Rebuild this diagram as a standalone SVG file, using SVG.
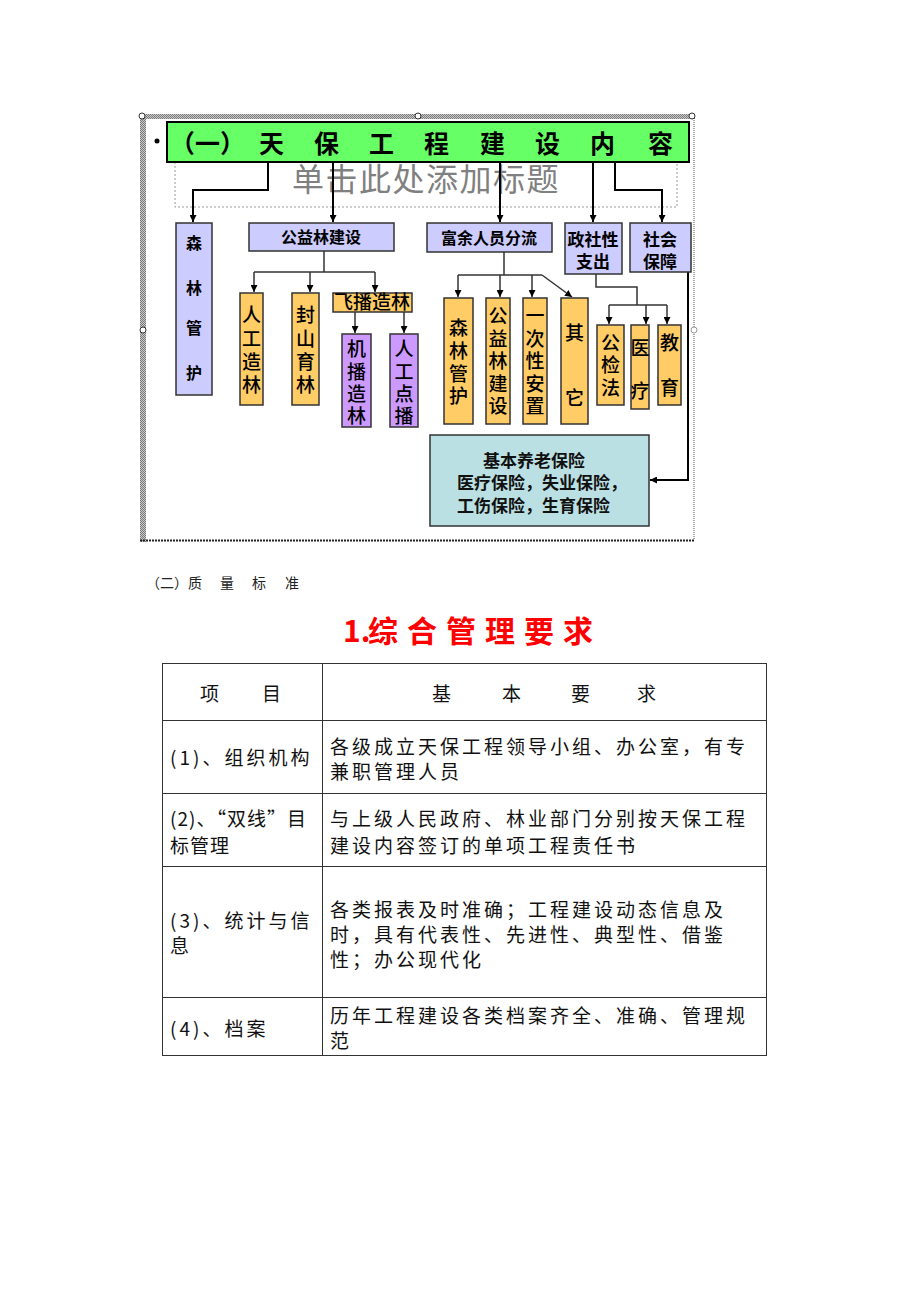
<svg xmlns="http://www.w3.org/2000/svg" width="920" height="1302" viewBox="0 0 920 1302">
<defs>
<pattern id="hatch" width="2" height="2" patternUnits="userSpaceOnUse">
<rect width="2" height="2" fill="#c8c8c8"/>
<rect width="1" height="1" fill="#7a7a7a"/>
<rect x="1" y="1" width="1" height="1" fill="#7a7a7a"/>
</pattern>
<marker id="ah" viewBox="0 0 10 10" refX="10" refY="5" markerWidth="7" markerHeight="7" markerUnits="userSpaceOnUse" orient="auto">
<path d="M0,0 L10,5 L0,10 z" fill="#000"/>
</marker>
</defs>
<style>
.cjk{font-family:"Noto Sans CJK SC","Liberation Sans",sans-serif}
.b{font-weight:bold}
.lav{fill:#CCCCFF;stroke:#333;stroke-width:1.5}
.org{fill:#FFCC66;stroke:#333;stroke-width:1.5}
.pur{fill:#CC99FF;stroke:#333;stroke-width:1.5}
.main{fill:none;stroke:#000;stroke-width:2}
.sub{fill:none;stroke:#333;stroke-width:1.5}
.lbl{font-size:16px;font-weight:bold;text-anchor:middle}
.vt{font-size:19px;font-weight:500;text-anchor:middle}
.tb{font-size:19px;fill:#111}
</style>
<rect width="920" height="1302" fill="#fff"/>

<!-- slide frame -->
<g id="frame">
<rect x="140" y="114" width="555" height="5" fill="url(#hatch)"/>
<rect x="140" y="114" width="6" height="428" fill="url(#hatch)"/>
<line x1="694" y1="118" x2="694" y2="540" stroke="#555" stroke-width="1" stroke-dasharray="1,1"/>
<line x1="140" y1="540.5" x2="695" y2="540.5" stroke="#222" stroke-width="2" stroke-dasharray="2,1"/>
<rect x="175" y="150" width="502" height="57" fill="none" stroke="#999" stroke-width="1" stroke-dasharray="2,2"/>
<text x="292" y="191" class="cjk" font-size="32" fill="#808080" letter-spacing="1.5">单击此处添加标题</text>
<circle cx="142" cy="116" r="3" fill="#fff" stroke="#333"/>
<circle cx="418" cy="116" r="3" fill="#fff" stroke="#333"/>
<circle cx="692" cy="116" r="3" fill="#fff" stroke="#333"/>
<circle cx="143" cy="330" r="3" fill="#fff" stroke="#333"/>
<circle cx="694" cy="330" r="3" fill="#fff" stroke="#999"/>
<circle cx="157" cy="141" r="2.5" fill="#000"/>
</g>

<g id="connectors">
<path class="main" d="M268,162 V190 H193 V222" marker-end="url(#ah)"/>
<path class="main" d="M333,162 V222" marker-end="url(#ah)"/>
<path class="main" d="M500,162 V222" marker-end="url(#ah)"/>
<path class="main" d="M593,162 V222" marker-end="url(#ah)"/>
<path class="main" d="M615,162 V190 H662 V222" marker-end="url(#ah)"/>
<path class="main" d="M688,272 V480 H650" marker-end="url(#ah)"/>
<path class="sub" d="M324,251 V272"/>
<path class="sub" d="M254,272 H375"/>
<path class="sub" d="M254,272 V292" marker-end="url(#ah)"/>
<path class="sub" d="M310,272 V292" marker-end="url(#ah)"/>
<path class="sub" d="M375,272 V292" marker-end="url(#ah)"/>
<path class="sub" d="M355,312 V333" marker-end="url(#ah)"/>
<path class="sub" d="M404,312 V333" marker-end="url(#ah)"/>
<path class="sub" d="M504,252 V275"/>
<path class="sub" d="M458,275 H542"/>
<path class="sub" d="M458,275 V297" marker-end="url(#ah)"/>
<path class="sub" d="M500,275 V297" marker-end="url(#ah)"/>
<path class="sub" d="M532,275 V297" marker-end="url(#ah)"/>
<path class="sub" d="M542,275 L572,297" marker-end="url(#ah)"/>
<path class="sub" d="M596,274 V287 H637 V305"/>
<path class="sub" d="M609,305 H667"/>
<path class="sub" d="M609,305 V324" marker-end="url(#ah)"/>
<path class="sub" d="M646,305 V324" marker-end="url(#ah)"/>
<path class="sub" d="M667,305 V324" marker-end="url(#ah)"/>
</g>

<g id="title">
<rect x="167" y="122" width="522" height="40" fill="#66FF66" stroke="#000" stroke-width="2"/>
<text class="cjk b" font-size="25" y="153"><tspan x="170">（一）</tspan><tspan x="259">天</tspan><tspan x="314">保</tspan><tspan x="369">工</tspan><tspan x="424">程</tspan><tspan x="480">建</tspan><tspan x="535">设</tspan><tspan x="590">内</tspan><tspan x="648">容</tspan></text>
</g>

<g id="n-senlin">
<rect class="lav" x="176" y="223" width="36" height="172"/>
<text class="cjk lbl" x="194"><tspan x="194" y="249">森</tspan><tspan x="194" y="294">林</tspan><tspan x="194" y="334">管</tspan><tspan x="194" y="379">护</tspan></text>
</g>
<g id="n-gongyi">
<rect class="lav" x="249" y="223" width="145" height="28"/>
<text class="cjk lbl" x="321" y="243">公益林建设</text>
</g>
<g id="n-fuyu">
<rect class="lav" x="427" y="223" width="125" height="29"/>
<text class="cjk lbl" x="489" y="244">富余人员分流</text>
</g>
<g id="n-zhengshe">
<rect class="lav" x="565" y="223" width="57" height="51"/>
<text class="cjk b" font-size="17" text-anchor="middle"><tspan x="593" y="246">政社性</tspan><tspan x="593" y="268">支出</tspan></text>
</g>
<g id="n-shehui">
<rect class="lav" x="630" y="223" width="61" height="49"/>
<text class="cjk b" font-size="17" text-anchor="middle"><tspan x="660" y="246">社会</tspan><tspan x="660" y="268">保障</tspan></text>
</g>

<g id="n-rengong">
<rect class="org" x="240" y="293" width="23" height="112"/>
<text class="cjk vt"><tspan x="251.5" y="322">人</tspan><tspan x="251.5" y="346">工</tspan><tspan x="251.5" y="369">造</tspan><tspan x="251.5" y="392">林</tspan></text>
</g>
<g id="n-fengshan">
<rect class="org" x="292" y="293" width="27" height="112"/>
<text class="cjk vt"><tspan x="305.5" y="322">封</tspan><tspan x="305.5" y="346">山</tspan><tspan x="305.5" y="369">育</tspan><tspan x="305.5" y="392">林</tspan></text>
</g>
<g id="n-feibo">
<rect class="org" x="333" y="293" width="79" height="19"/>
<text class="cjk vt" x="372" y="309">飞播造林</text>
</g>
<g id="n-jibo">
<rect class="pur" x="342" y="334" width="29" height="93"/>
<text class="cjk vt"><tspan x="356.5" y="356">机</tspan><tspan x="356.5" y="379">播</tspan><tspan x="356.5" y="401">造</tspan><tspan x="356.5" y="423">林</tspan></text>
</g>
<g id="n-dianbo">
<rect class="pur" x="390" y="334" width="28" height="93"/>
<text class="cjk vt"><tspan x="404" y="356">人</tspan><tspan x="404" y="379">工</tspan><tspan x="404" y="401">点</tspan><tspan x="404" y="423">播</tspan></text>
</g>

<g id="n-senlin2">
<rect class="org" x="444" y="298" width="29" height="126"/>
<text class="cjk vt"><tspan x="458.5" y="335">森</tspan><tspan x="458.5" y="358">林</tspan><tspan x="458.5" y="381">管</tspan><tspan x="458.5" y="403">护</tspan></text>
</g>
<g id="n-gongyi2">
<rect class="org" x="486" y="298" width="24" height="126"/>
<text class="cjk vt"><tspan x="498" y="323">公</tspan><tspan x="498" y="346">益</tspan><tspan x="498" y="368">林</tspan><tspan x="498" y="391">建</tspan><tspan x="498" y="413">设</tspan></text>
</g>
<g id="n-yici">
<rect class="org" x="523" y="298" width="24" height="126"/>
<text class="cjk vt"><tspan x="535" y="323">一</tspan><tspan x="535" y="346">次</tspan><tspan x="535" y="368">性</tspan><tspan x="535" y="391">安</tspan><tspan x="535" y="413">置</tspan></text>
</g>
<g id="n-qita">
<rect class="org" x="561" y="298" width="27" height="126"/>
<text class="cjk vt"><tspan x="574.5" y="340">其</tspan><tspan x="574.5" y="405">它</tspan></text>
</g>
<g id="n-gongjianfa">
<rect class="org" x="597" y="325" width="27" height="80"/>
<text class="cjk vt"><tspan x="610.5" y="350">公</tspan><tspan x="610.5" y="372">检</tspan><tspan x="610.5" y="395">法</tspan></text>
</g>
<g id="n-yiliao">
<rect class="org" x="631" y="325" width="18" height="84"/>
<text class="cjk vt"><tspan x="640" y="355">医</tspan><tspan x="640" y="398">疗</tspan></text>
</g>
<g id="n-jiaoyu">
<rect class="org" x="658" y="325" width="23" height="80"/>
<text class="cjk vt"><tspan x="669.5" y="350">教</tspan><tspan x="669.5" y="395">育</tspan></text>
</g>

<g id="n-baoxian">
<rect x="430" y="435" width="219" height="91" fill="#BBE0E3" stroke="#333" stroke-width="1.5"/>
<text class="cjk b" font-size="17" fill="#111"><tspan x="483" y="467">基本养老保险</tspan><tspan x="457" y="489">医疗保险，失业保险，</tspan><tspan x="457" y="512">工伤保险，生育保险</tspan></text>
</g>

<g id="heading">
<text class="cjk" font-size="14" fill="#222" y="588"><tspan x="146">（二）</tspan><tspan x="188">质</tspan><tspan x="220">量</tspan><tspan x="252">标</tspan><tspan x="285">准</tspan></text>
<text class="cjk b" font-size="30" fill="#FF0000" y="642"><tspan x="343">1.</tspan><tspan x="368">综</tspan><tspan x="407">合</tspan><tspan x="446">管</tspan><tspan x="485">理</tspan><tspan x="524">要</tspan><tspan x="563">求</tspan></text>
</g>

<g id="table" stroke="#333" stroke-width="1">
<rect x="162.5" y="663.5" width="604" height="392" fill="none"/>
<line x1="322.5" y1="663" x2="322.5" y2="1056"/>
<line x1="162" y1="720.5" x2="767" y2="720.5"/>
<line x1="162" y1="793.5" x2="767" y2="793.5"/>
<line x1="162" y1="866.5" x2="767" y2="866.5"/>
<line x1="162" y1="997.5" x2="767" y2="997.5"/>
</g>
<g id="table-text" class="cjk tb" stroke="none">
<text class="cjk tb" y="701"><tspan x="200">项</tspan><tspan x="262">目</tspan></text>
<text class="cjk tb" y="701"><tspan x="432">基</tspan><tspan x="502">本</tspan><tspan x="571">要</tspan><tspan x="637">求</tspan></text>
<text class="cjk tb" x="170" y="765" letter-spacing="3">(1)、组织机构</text>
<text class="cjk tb" letter-spacing="3"><tspan x="330" y="754">各级成立天保工程领导小组、办公室，有专</tspan><tspan x="330" y="779">兼职管理人员</tspan></text>
<text class="cjk tb" letter-spacing="1"><tspan x="170" y="826">(2)、“双线”目</tspan><tspan x="170" y="853">标管理</tspan></text>
<text class="cjk tb" letter-spacing="3"><tspan x="330" y="826">与上级人民政府、林业部门分别按天保工程</tspan><tspan x="330" y="853">建设内容签订的单项工程责任书</tspan></text>
<text class="cjk tb" letter-spacing="3"><tspan x="170" y="928">(3)、统计与信</tspan><tspan x="170" y="953">息</tspan></text>
<text class="cjk tb" letter-spacing="3"><tspan x="330" y="917">各类报表及时准确；工程建设动态信息及</tspan><tspan x="330" y="942">时，具有代表性、先进性、典型性、借鉴</tspan><tspan x="330" y="967">性；办公现代化</tspan></text>
<text class="cjk tb" x="170" y="1036" letter-spacing="3">(4)、档案</text>
<text class="cjk tb" letter-spacing="3"><tspan x="330" y="1023">历年工程建设各类档案齐全、准确、管理规</tspan><tspan x="330" y="1048">范</tspan></text>
</g>
</svg>
